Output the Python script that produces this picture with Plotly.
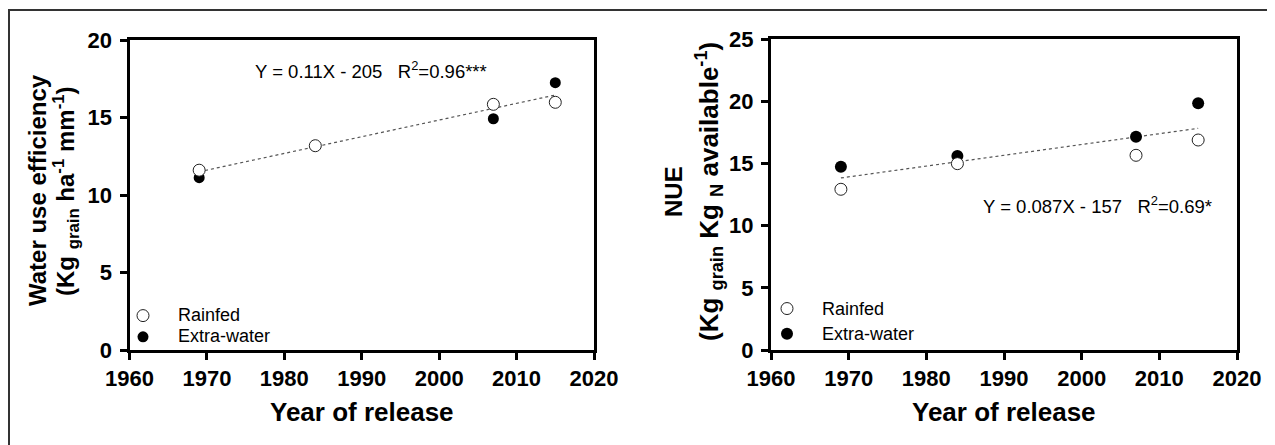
import plotly.graph_objects as go

# ---- data ----
years = [1969, 1984, 2007, 2015]

wue_rainfed = [11.6, 13.18, 15.85, 15.98]
wue_extra_years = [1969, 2007, 2015]
wue_extra = [11.12, 14.92, 17.25]
wue_fit_x = [1969, 2015]
wue_fit_y = [11.5, 16.45]

nue_rainfed = [12.92, 14.98, 15.65, 16.88]
nue_extra = [14.73, 15.59, 17.15, 19.83]
nue_fit_x = [1969, 2015]
nue_fit_y = [13.83, 17.82]

x_ticks = [1960, 1970, 1980, 1990, 2000, 2010, 2020]
wue_ticks = [0, 5, 10, 15, 20]
nue_ticks = [0, 5, 10, 15, 20, 25]

series_names = ["Rainfed", "Extra-water"]

W, H = 1275, 445
OFF = 8  # page body margin
FONT = "Arial, Liberation Sans, sans-serif"

fig = go.Figure()

def px_x(p):
    return (p - OFF) / W

def px_y(p):
    return 1 - (p - OFF) / H

def leg_name(s):
    return "<span style='font-size:18px'>" + s + "</span>"

# left panel
fig.add_trace(go.Scatter(x=wue_fit_x, y=wue_fit_y, mode="lines",
                         line=dict(color="#555555", width=1.2, dash="dot"),
                         showlegend=False, xaxis="x", yaxis="y", hoverinfo="skip"))
fig.add_trace(go.Scatter(x=wue_extra_years, y=wue_extra, mode="markers", name=leg_name(series_names[1]),
                         marker=dict(size=11, color="black", line=dict(width=0)),
                         xaxis="x", yaxis="y", legend="legend", legendrank=2))
fig.add_trace(go.Scatter(x=years, y=wue_rainfed, mode="markers", name=leg_name(series_names[0]),
                         marker=dict(size=12, color="white", line=dict(width=1, color="#222222")),
                         xaxis="x", yaxis="y", legend="legend", legendrank=1))

# right panel
fig.add_trace(go.Scatter(x=nue_fit_x, y=nue_fit_y, mode="lines",
                         line=dict(color="#555555", width=1.2, dash="dot"),
                         showlegend=False, xaxis="x2", yaxis="y2", hoverinfo="skip"))
fig.add_trace(go.Scatter(x=years, y=nue_extra, mode="markers", name=leg_name(series_names[1]),
                         marker=dict(size=12, color="black", line=dict(width=0)),
                         xaxis="x2", yaxis="y2", legend="legend2", legendrank=2))
fig.add_trace(go.Scatter(x=years, y=nue_rainfed, mode="markers", name=leg_name(series_names[0]),
                         marker=dict(size=12, color="white", line=dict(width=1, color="#222222")),
                         xaxis="x2", yaxis="y2", legend="legend2", legendrank=1))

axis_common = dict(showline=True, linecolor="black", linewidth=3, mirror=True,
                   ticks="outside", ticklen=7, tickwidth=3, tickcolor="black",
                   showgrid=False, zeroline=False, automargin=False,
                   tickfont=dict(family=FONT, size=22, color="black", weight="bold"))

fig.update_layout(
    width=W, height=H, autosize=False,
    margin=dict(l=0, r=0, t=0, b=0, pad=0, autoexpand=False),
    paper_bgcolor="white", plot_bgcolor="white",
    xaxis=dict(domain=[px_x(129.5), px_x(594)], range=[1960, 2020], tickvals=x_ticks,
               anchor="y", ticklabelstandoff=0, **axis_common),
    yaxis=dict(domain=[px_y(350), px_y(40)], range=[0, 20], tickvals=wue_ticks,
               anchor="x", ticklabelstandoff=3, **axis_common),
    xaxis2=dict(domain=[px_x(771), px_x(1237)], range=[1960, 2020], tickvals=x_ticks,
                anchor="y2", ticklabelstandoff=0, **axis_common),
    yaxis2=dict(domain=[px_y(350), px_y(39)], range=[0, 25], tickvals=nue_ticks,
                anchor="x2", ticklabelstandoff=3, **axis_common),
    legend=dict(x=px_x(108), y=px_y(300), xanchor="left", yanchor="top",
                bgcolor="rgba(0,0,0,0)", font=dict(family=FONT, size=14, color="black"),
                itemwidth=60, traceorder="normal"),
    legend2=dict(x=px_x(752), y=px_y(291), xanchor="left", yanchor="top",
                 bgcolor="rgba(0,0,0,0)", font=dict(family=FONT, size=17, color="black"),
                 itemwidth=60, traceorder="normal"),
    showlegend=True,
)

ann_title = dict(family=FONT, size=24, color="black", weight="bold")
ann_x = dict(family=FONT, size=26, color="black", weight="bold")
ann_eq = dict(family=FONT, size=18.5, color="black")

fig.add_annotation(text="Water use efficiency", xref="paper", yref="paper",
                   x=px_x(37), y=px_y(190), textangle=-90, showarrow=False, font=ann_title,
                   xanchor="center", yanchor="middle")
fig.add_annotation(text="(Kg <sub>grain</sub> ha<sup>-1</sup> mm<sup>-1</sup>)", xref="paper", yref="paper",
                   x=px_x(66), y=px_y(191), textangle=-90, showarrow=False, font=ann_title,
                   xanchor="center", yanchor="middle")
fig.add_annotation(text="NUE", xref="paper", yref="paper",
                   x=px_x(673), y=px_y(192), textangle=-90, showarrow=False, font=ann_title,
                   xanchor="center", yanchor="middle")
fig.add_annotation(text="(Kg <sub>grain</sub> Kg <sub>N</sub> available<sup>-1</sup>)", xref="paper", yref="paper",
                   x=px_x(709), y=px_y(192), textangle=-90, showarrow=False,
                   font=dict(family=FONT, size=26, color="black", weight="bold"),
                   xanchor="center", yanchor="middle")
fig.add_annotation(text="Year of release", xref="paper", yref="paper",
                   x=px_x(362), y=px_y(412), showarrow=False, font=ann_x,
                   xanchor="center", yanchor="middle")
fig.add_annotation(text="Year of release", xref="paper", yref="paper",
                   x=px_x(1004), y=px_y(412), showarrow=False, font=ann_x,
                   xanchor="center", yanchor="middle")
fig.add_annotation(text="Y = 0.11X - 205   R<sup>2</sup>=0.96***", xref="x", yref="y",
                   x=1991.2, y=18.06, showarrow=False, font=ann_eq,
                   xanchor="center", yanchor="middle")
fig.add_annotation(text="Y = 0.087X - 157   R<sup>2</sup>=0.69*", xref="x2", yref="y2",
                   x=2002.0, y=11.66, showarrow=False, font=ann_eq,
                   xanchor="center", yanchor="middle")

# outer frame
fig.add_shape(type="rect", xref="paper", yref="paper",
              x0=px_x(9), x1=1.02, y0=-0.05, y1=px_y(10),
              line=dict(color="#333333", width=2), fillcolor="rgba(0,0,0,0)")

fig.write_html("out.html")
